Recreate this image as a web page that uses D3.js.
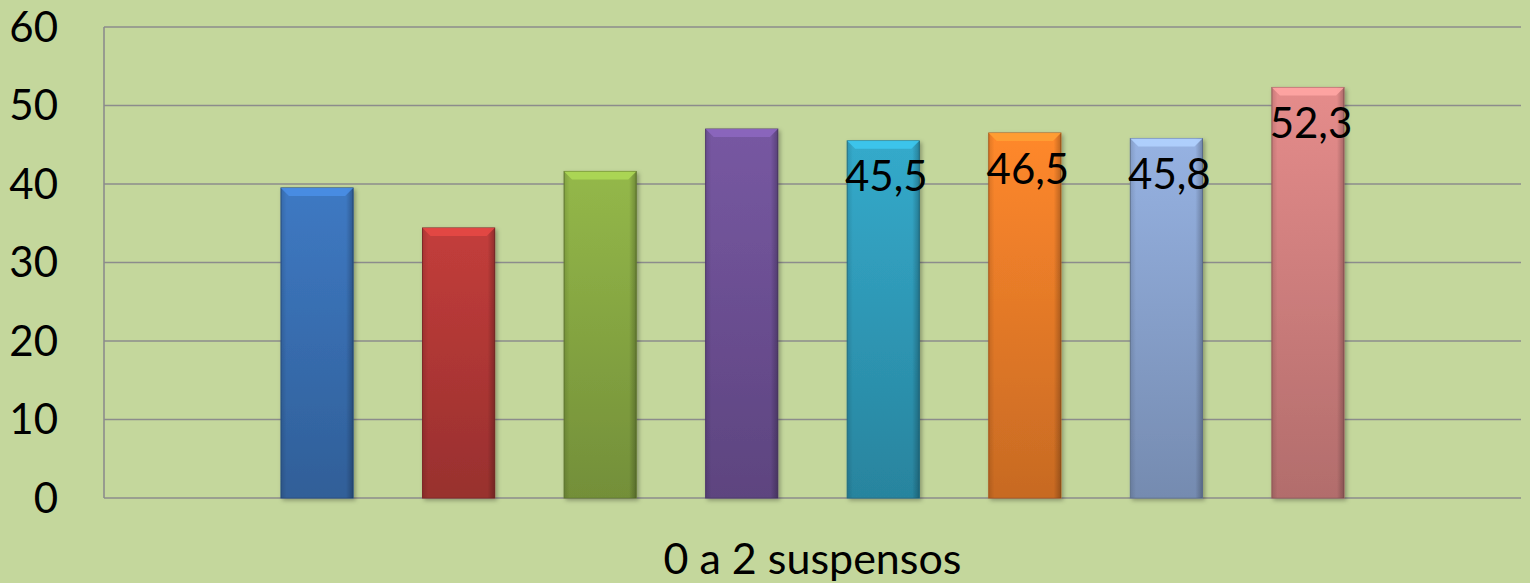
<!DOCTYPE html>
<meta charset="utf-8">
<style>
  body { margin: 0; background: #c4d79c; }
  text { font-family: Lato, "Liberation Sans", sans-serif; fill: #000; }
</style>
<script src="https://d3js.org/d3.v7.min.js"></script>
<div id="chart"></div>
<script>
// data
var series = ["s1", "s2", "s3", "s4", "s5", "s6", "s7", "s8"];
var values = [39.5, 34.4, 41.6, 47.0, 45.5, 46.5, 45.8, 52.3];
var labels = [null, null, null, null, "45,5", "46,5", "45,8", "52,3"];
var colors = ["#3b73b9", "#b93a38", "#8cae45", "#71539a", "#31a1c0", "#f2812a", "#8ea9d6", "#d98584"];
var yTicks = [0, 10, 20, 30, 40, 50, 60];
var category = "0 a 2 suspensos";

var W = 1530, H = 583;
var margin = {top: 27, right: 9, bottom: 85, left: 104};
var width = W - margin.left - margin.right,
    height = H - margin.top - margin.bottom;

var svg = d3.select("#chart").append("svg")
    .attr("width", W).attr("height", H);

var defs = svg.append("defs");
colors.forEach(function(c, i) {
  var g = defs.append("linearGradient").attr("id", "grad" + i)
      .attr("x1", 0).attr("y1", 0).attr("x2", 0).attr("y2", 1);
  g.append("stop").attr("offset", "0%").attr("stop-color", d3.color(c).brighter(0.15));
  g.append("stop").attr("offset", "100%").attr("stop-color", d3.color(c).darker(0.55));
  var h = defs.append("linearGradient").attr("id", "side" + i)
      .attr("x1", 0).attr("y1", 0).attr("x2", 1).attr("y2", 0);
  h.append("stop").attr("offset", "0%").attr("stop-color", "#000").attr("stop-opacity", 0.12);
  h.append("stop").attr("offset", "8%").attr("stop-color", "#000").attr("stop-opacity", 0);
  h.append("stop").attr("offset", "90%").attr("stop-color", "#000").attr("stop-opacity", 0);
  h.append("stop").attr("offset", "100%").attr("stop-color", "#000").attr("stop-opacity", 0.25);
});
var f = defs.append("filter").attr("id", "shadow")
    .attr("x", "-10%").attr("y", "-10%").attr("width", "130%").attr("height", "120%");
f.append("feDropShadow").attr("dx", 2).attr("dy", 2).attr("stdDeviation", 2)
    .attr("flood-color", "#000").attr("flood-opacity", 0.3);

var g = svg.append("g").attr("transform", "translate(" + margin.left + "," + margin.top + ")");

var y = d3.scaleLinear().domain([0, 60]).range([height, 0]);
var x = d3.scaleBand().domain(series).range([0, width])
    .paddingInner(0.49).paddingOuter(1.25);

// gridlines
g.append("g").selectAll("line").data(yTicks).enter().append("line")
    .attr("x1", 0).attr("x2", width)
    .attr("y1", function(d) { return y(d); }).attr("y2", function(d) { return y(d); })
    .attr("stroke", "#8c8c8c").attr("stroke-width", 1.6);
g.append("line").attr("x1", 0).attr("x2", 0).attr("y1", 0).attr("y2", height)
    .attr("stroke", "#8c8c8c").attr("stroke-width", 1.6);

// y labels
g.append("g").selectAll("text").data(yTicks).enter().append("text")
    .attr("x", -46).attr("y", function(d) { return y(d); })
    .attr("dy", "0.35em").attr("text-anchor", "end")
    .style("font-size", "42px").text(function(d) { return d; });

// bars
var bars = g.append("g").selectAll("g").data(values).enter().append("g");
bars.append("rect")
    .attr("x", function(d, i) { return x(series[i]); })
    .attr("y", function(d) { return y(d); })
    .attr("width", x.bandwidth())
    .attr("height", function(d) { return height - y(d); })
    .attr("fill", function(d, i) { return "url(#grad" + i + ")"; })
    .attr("stroke", function(d, i) { return d3.color(colors[i]).darker(0.9); })
    .attr("stroke-width", 1)
    .attr("filter", "url(#shadow)");
bars.append("rect")
    .attr("x", function(d, i) { return x(series[i]); })
    .attr("y", function(d) { return y(d); })
    .attr("width", x.bandwidth())
    .attr("height", function(d) { return height - y(d); })
    .attr("fill", function(d, i) { return "url(#side" + i + ")"; });
// top bevel
var bev = 8;
bars.append("path")
    .attr("d", function(d, i) {
      var x0 = x(series[i]), x1 = x0 + x.bandwidth(), t = y(d);
      return "M" + x0 + "," + t + "L" + x1 + "," + t + "L" + (x1 - bev) + "," + (t + bev) +
             "L" + (x0 + bev) + "," + (t + bev) + "Z";
    })
    .attr("fill", function(d, i) { return d3.color(colors[i]).brighter(0.6); })
    .attr("opacity", 0.9);

// value labels
g.append("g").selectAll("text").data(values).enter()
  .filter(function(d, i) { return labels[i] !== null; })
  .append("text")
    .attr("x", function(d) { var i = values.indexOf(d); return x(series[i]) + x.bandwidth() / 2 + 3; })
    .attr("y", function(d) { return y(d) + 17; })
    .attr("dy", "0.8em").attr("text-anchor", "middle")
    .style("font-size", "42px")
    .text(function(d) { return labels[values.indexOf(d)]; });

// category label
g.append("text").attr("x", width / 2).attr("y", height + 76)
    .attr("text-anchor", "middle").style("font-size", "43px").text(category);
</script>
